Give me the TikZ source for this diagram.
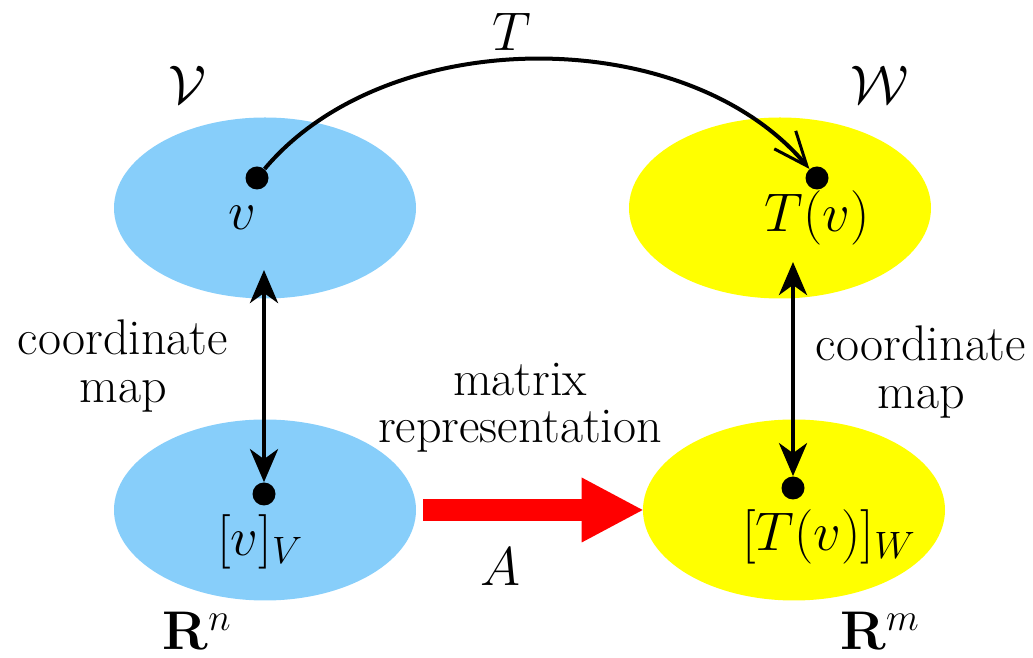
\RequirePackage{fix-cm}
\documentclass[tikz,border=0pt]{standalone}
\usetikzlibrary{shapes.geometric,arrows.meta}
\definecolor{skyblue}{RGB}{135,206,250}
\definecolor{sunyellow}{RGB}{255,255,0}
\definecolor{arrowred}{RGB}{255,0,0}
\begin{document}
\begin{tikzpicture}[scale=1,
  blob/.style={ellipse,inner sep=0pt,minimum width=6.04cm,minimum height=3.62cm},
  bullet/.style={circle,fill=black,inner sep=0pt,minimum size=0.46cm},
  mathlbl/.style={inner sep=0pt,font=\fontsize{31}{37}\selectfont},
  wordlbl/.style={inner sep=0pt,align=center,font=\fontsize{28.5}{27}\selectfont},
  coordarrow/.style={line width=0.09cm,
    {Stealth[length=0.66cm,width=0.56cm,inset=0.2cm]}-{Stealth[length=0.66cm,width=0.56cm,inset=0.2cm]}}]
\useasboundingbox (0,0) rectangle (20.66,13.16);
% the four spaces
\node[blob,fill=skyblue] (Vsp) at (5.30,9.00) {};
\node[blob,fill=sunyellow] (Wsp) at (15.60,9.00) {};
\node[blob,fill=skyblue] (Rnsp) at (5.30,2.96) {};
\node[blob,fill=sunyellow] (Rmsp) at (15.88,2.96) {};
% points
\node[bullet] (v) at (5.14,9.60) {};
\node[bullet] (Tv) at (16.34,9.60) {};
\node[bullet] (vc) at (5.28,3.28) {};
\node[bullet] (Tvc) at (15.86,3.40) {};
\coordinate (vtop) at (5.28,7.76);
\coordinate (Tvtop) at (15.86,7.92);
% maps
\draw[line width=0.08cm,-{Straight Barb[length=0.68cm,width=0.56cm,line width=0.06cm]}]
  (v) to[out=50,in=130,looseness=0.9] (Tv);
\draw[coordarrow] (vtop) -- (vc);
\draw[coordarrow] (Tvtop) -- (Tvc);
\draw[arrowred,line width=0.44cm,-{Triangle[length=1.22cm,width=1.30cm,line width=0pt]}]
  ([xshift=0.14cm]Rnsp.east) -- (Rmsp.west);
% labels
\node[mathlbl] (lblV) at (3.74,11.46) {$\mathcal{V}$};
\node[mathlbl] (lblW) at (17.60,11.46) {$\mathcal{W}$};
\node[mathlbl] (lblT) at (10.24,12.52) {$T$};
\node[mathlbl] (lblv) at (4.84,8.80) {$v$};
\node[mathlbl] (lblTv) at (16.34,8.80) {$T(v)$};
\node[mathlbl] (lblvc) at (5.20,2.32) {$[v]_V$};
\node[mathlbl] (lblTvc) at (16.58,2.42) {$[T(v)]_W$};
\node[mathlbl] (lblA) at (10.00,1.82) {$A$};
\node[mathlbl,anchor=base] (lblRn) at (3.94,0.16) {$\mathbf{R}^n$};
\node[mathlbl,anchor=base] (lblRm) at (17.60,0.16) {$\mathbf{R}^m$};
\node[wordlbl] (lblcl) at (2.46,5.84) {coordinate\\map};
\node[wordlbl] (lblcr) at (18.42,5.72) {coordinate\\map};
\node[wordlbl] (lblmat) at (10.40,5.00) {matrix\\representation};
\end{tikzpicture}
\end{document}
